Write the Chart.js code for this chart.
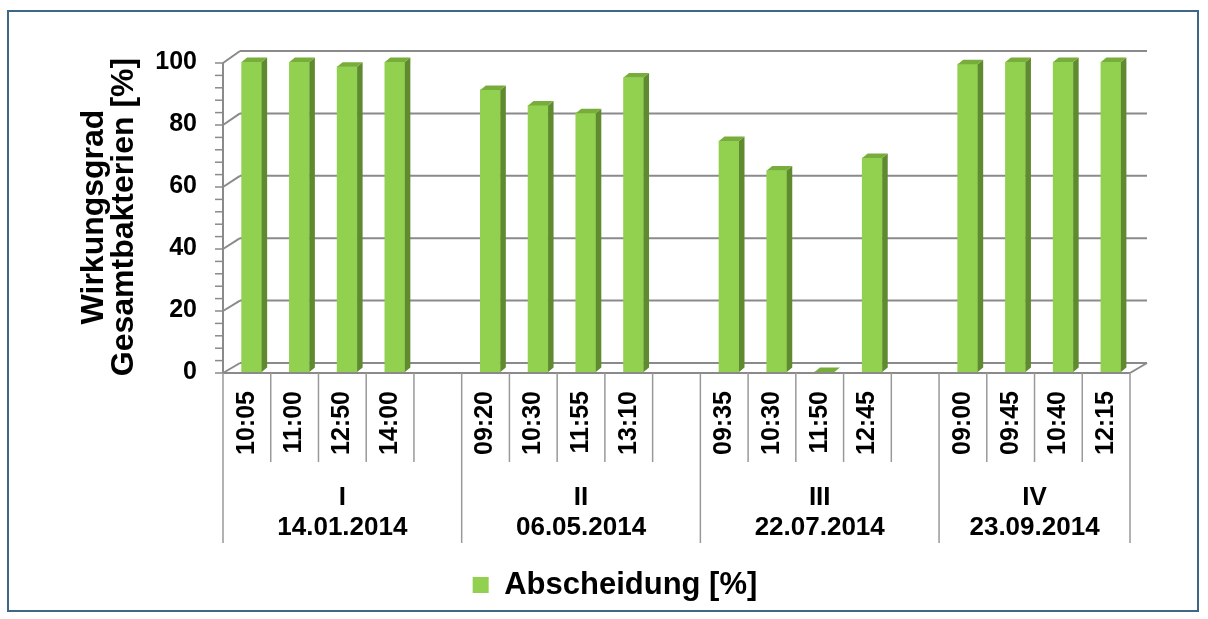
<!DOCTYPE html>
<html>
<head>
<meta charset="utf-8">
<script src="https://cdn.jsdelivr.net/npm/chart.js@4.4.0/dist/chart.umd.min.js"></script>
<style>
html,body{margin:0;padding:0;background:#ffffff;}
#wrap{position:relative;width:1208px;height:619px;}
canvas{display:block;}
</style>
</head>
<body>
<div id="wrap"><canvas id="c" width="1208" height="619"></canvas></div>
<script>
// ---- data ----
const timeLabels = ['10:05','11:00','12:50','14:00','',
                    '09:20','10:30','11:55','13:10','',
                    '09:35','10:30','11:50','12:45','',
                    '09:00','09:45','10:40','12:15'];
const abscheidung = [100, 100, 98.5, 100, null,
                     91, 86, 83.5, 95, null,
                     74.5, 65, 0, 69, null,
                     99.3, 100, 100, 100];
const groupNames = ['I','II','III','IV'];
const groupDates = ['14.01.2014','06.05.2014','22.07.2014','23.09.2014'];
const groupFirstSlot = [0, 5, 10, 15];
const groupEndSlot = [5, 10, 15, 19];
const seriesName = 'Abscheidung [%]';
const yTitle = ['Wirkungsgrad', 'Gesamtbakterien [%]'];

const FONT = "'Liberation Sans', Arial, sans-serif";
const FRONT = '#92d050', SIDE = '#5f8a30', TOP = '#78ad3c';
const GRID = '#8a8a8a';

function line(ctx, x1, y1, x2, y2) { ctx.beginPath(); ctx.moveTo(x1, y1); ctx.lineTo(x2, y2); ctx.stroke(); }

const frame3d = {
  id: 'frame3d',
  afterLayout(chart) {
    const lg = chart.legend;
    if (lg) { lg.left += 40; lg.right += 40; }
  },
  beforeDatasetsDraw(chart) {
    const ctx = chart.ctx, ys = chart.scales.y, xs = chart.scales.x, ca = chart.chartArea;
    const front = v => ys.getPixelForValue(v) + 1;
    const back = v => ys.getPixelForValue(v) - 9 - 0.02 * v;
    const DX = 17, L = ca.left, R = ca.right;
    ctx.save();
    ctx.strokeStyle = GRID;
    ctx.lineWidth = 2;
    ys.ticks.forEach(t => {
      line(ctx, L + DX, back(t.value), R + DX, back(t.value));
      line(ctx, L, front(t.value), L + DX, back(t.value));
    });
    line(ctx, L, front(ys.min), R, front(ys.min));
    line(ctx, R, front(ys.min), R + DX, back(ys.min));
    line(ctx, L, front(ys.min), L, front(ys.max));
    ctx.lineWidth = 1.5;
    for (let v = ys.min; v <= ys.max; v += 4) line(ctx, L - 8, front(v), L, front(v));
    // category dividers
    const n = timeLabels.length;
    const slot = xs.getPixelForValue(1) - xs.getPixelForValue(0);
    ctx.strokeStyle = '#999999';
    for (let i = 0; i <= n; i++) {
      const x = xs.getPixelForValue(0) - slot / 2 + i * slot;
      const isGroup = groupFirstSlot.includes(i) || i === n;
      line(ctx, x, front(ys.min), x, front(ys.min) + (isGroup ? 170 : 89));
    }
    // group labels
    ctx.fillStyle = '#000';
    ctx.font = 'bold 26px ' + FONT;
    ctx.textAlign = 'center';
    ctx.textBaseline = 'middle';
    groupNames.forEach((g, k) => {
      const x0 = xs.getPixelForValue(groupFirstSlot[k]) - slot / 2;
      const x1 = xs.getPixelForValue(groupEndSlot[k] - 1) + slot / 2;
      const cx = (x0 + x1) / 2;
      ctx.fillText(g, cx, ca.bottom + 126);
      ctx.fillText(groupDates[k], cx, ca.bottom + 156);
    });
    ctx.restore();
  },
  afterDatasetsDraw(chart) {
    const ctx = chart.ctx;
    const meta = chart.getDatasetMeta(0);
    const dx = 5.5, dy = -4.5;
    ctx.save();
    meta.data.forEach(bar => {
      const p = bar.getProps(['x', 'y', 'base', 'width'], true);
      const l = p.x - p.width / 2, r = p.x + p.width / 2;
      ctx.fillStyle = SIDE;
      ctx.beginPath();
      ctx.moveTo(r, p.y); ctx.lineTo(r + dx, p.y + dy); ctx.lineTo(r + dx, p.base + dy); ctx.lineTo(r, p.base);
      ctx.closePath(); ctx.fill();
      ctx.fillStyle = TOP;
      ctx.beginPath();
      ctx.moveTo(l, p.y); ctx.lineTo(l + dx, p.y + dy); ctx.lineTo(r + dx, p.y + dy); ctx.lineTo(r, p.y);
      ctx.closePath(); ctx.fill();
    });
    ctx.restore();
  },
  afterDraw(chart) {
    const ctx = chart.ctx;
    ctx.save();
    ctx.strokeStyle = '#3d6784';
    ctx.lineWidth = 2;
    ctx.strokeRect(8, 11, 1190, 600);
    ctx.restore();
  }
};

const points = abscheidung.map((v, i) => (v === null ? null : { x: i, y: v })).filter(p => p !== null);

new Chart(document.getElementById('c'), {
  type: 'bar',
  data: {
    labels: timeLabels,
    datasets: [{
      label: seriesName,
      data: points,
      xAxisID: 'xb',
      yAxisID: 'y',
      backgroundColor: FRONT,
      borderWidth: 0,
      barThickness: 20
    }]
  },
  options: {
    responsive: false,
    animation: false,
    devicePixelRatio: 1,
    layout: { padding: { left: 20, right: 78, top: 62, bottom: 8.5 } },
    plugins: {
      tooltip: { enabled: false },
      legend: {
        position: 'bottom',
        labels: {
          boxWidth: 16, boxHeight: 16, padding: 10,
          color: '#000',
          font: { family: FONT, size: 31, weight: 'bold' }
        }
      }
    },
    scales: {
      x: {
        type: 'category',
        offset: true,
        grid: { display: false, drawTicks: false },
        border: { display: false },
        ticks: {
          autoSkip: false, minRotation: 90, maxRotation: 90, padding: 19,
          color: '#000',
          font: { family: FONT, size: 25, weight: 'bold' }
        },
        afterFit(s) { s.height = 559.5 - 372; }
      },
      xb: {
        type: 'linear',
        display: false,
        offset: false,
        min: -0.6,
        max: 18.4,
        grid: { display: false }
      },
      y: {
        type: 'linear',
        min: 0, max: 100,
        grid: { display: false, drawTicks: false },
        border: { display: false },
        ticks: {
          stepSize: 20, padding: 26, color: '#000',
          font: { family: FONT, size: 25, weight: 'bold' }
        },
        title: {
          display: true,
          text: yTitle,
          color: '#000',
          padding: { top: 59, bottom: 0 },
          font: { family: FONT, size: 32, weight: 'bold', lineHeight: 0.95 }
        },
        afterFit(s) { s.width = 203; }
      }
    }
  },
  plugins: [frame3d]
});
</script>
</body>
</html>
